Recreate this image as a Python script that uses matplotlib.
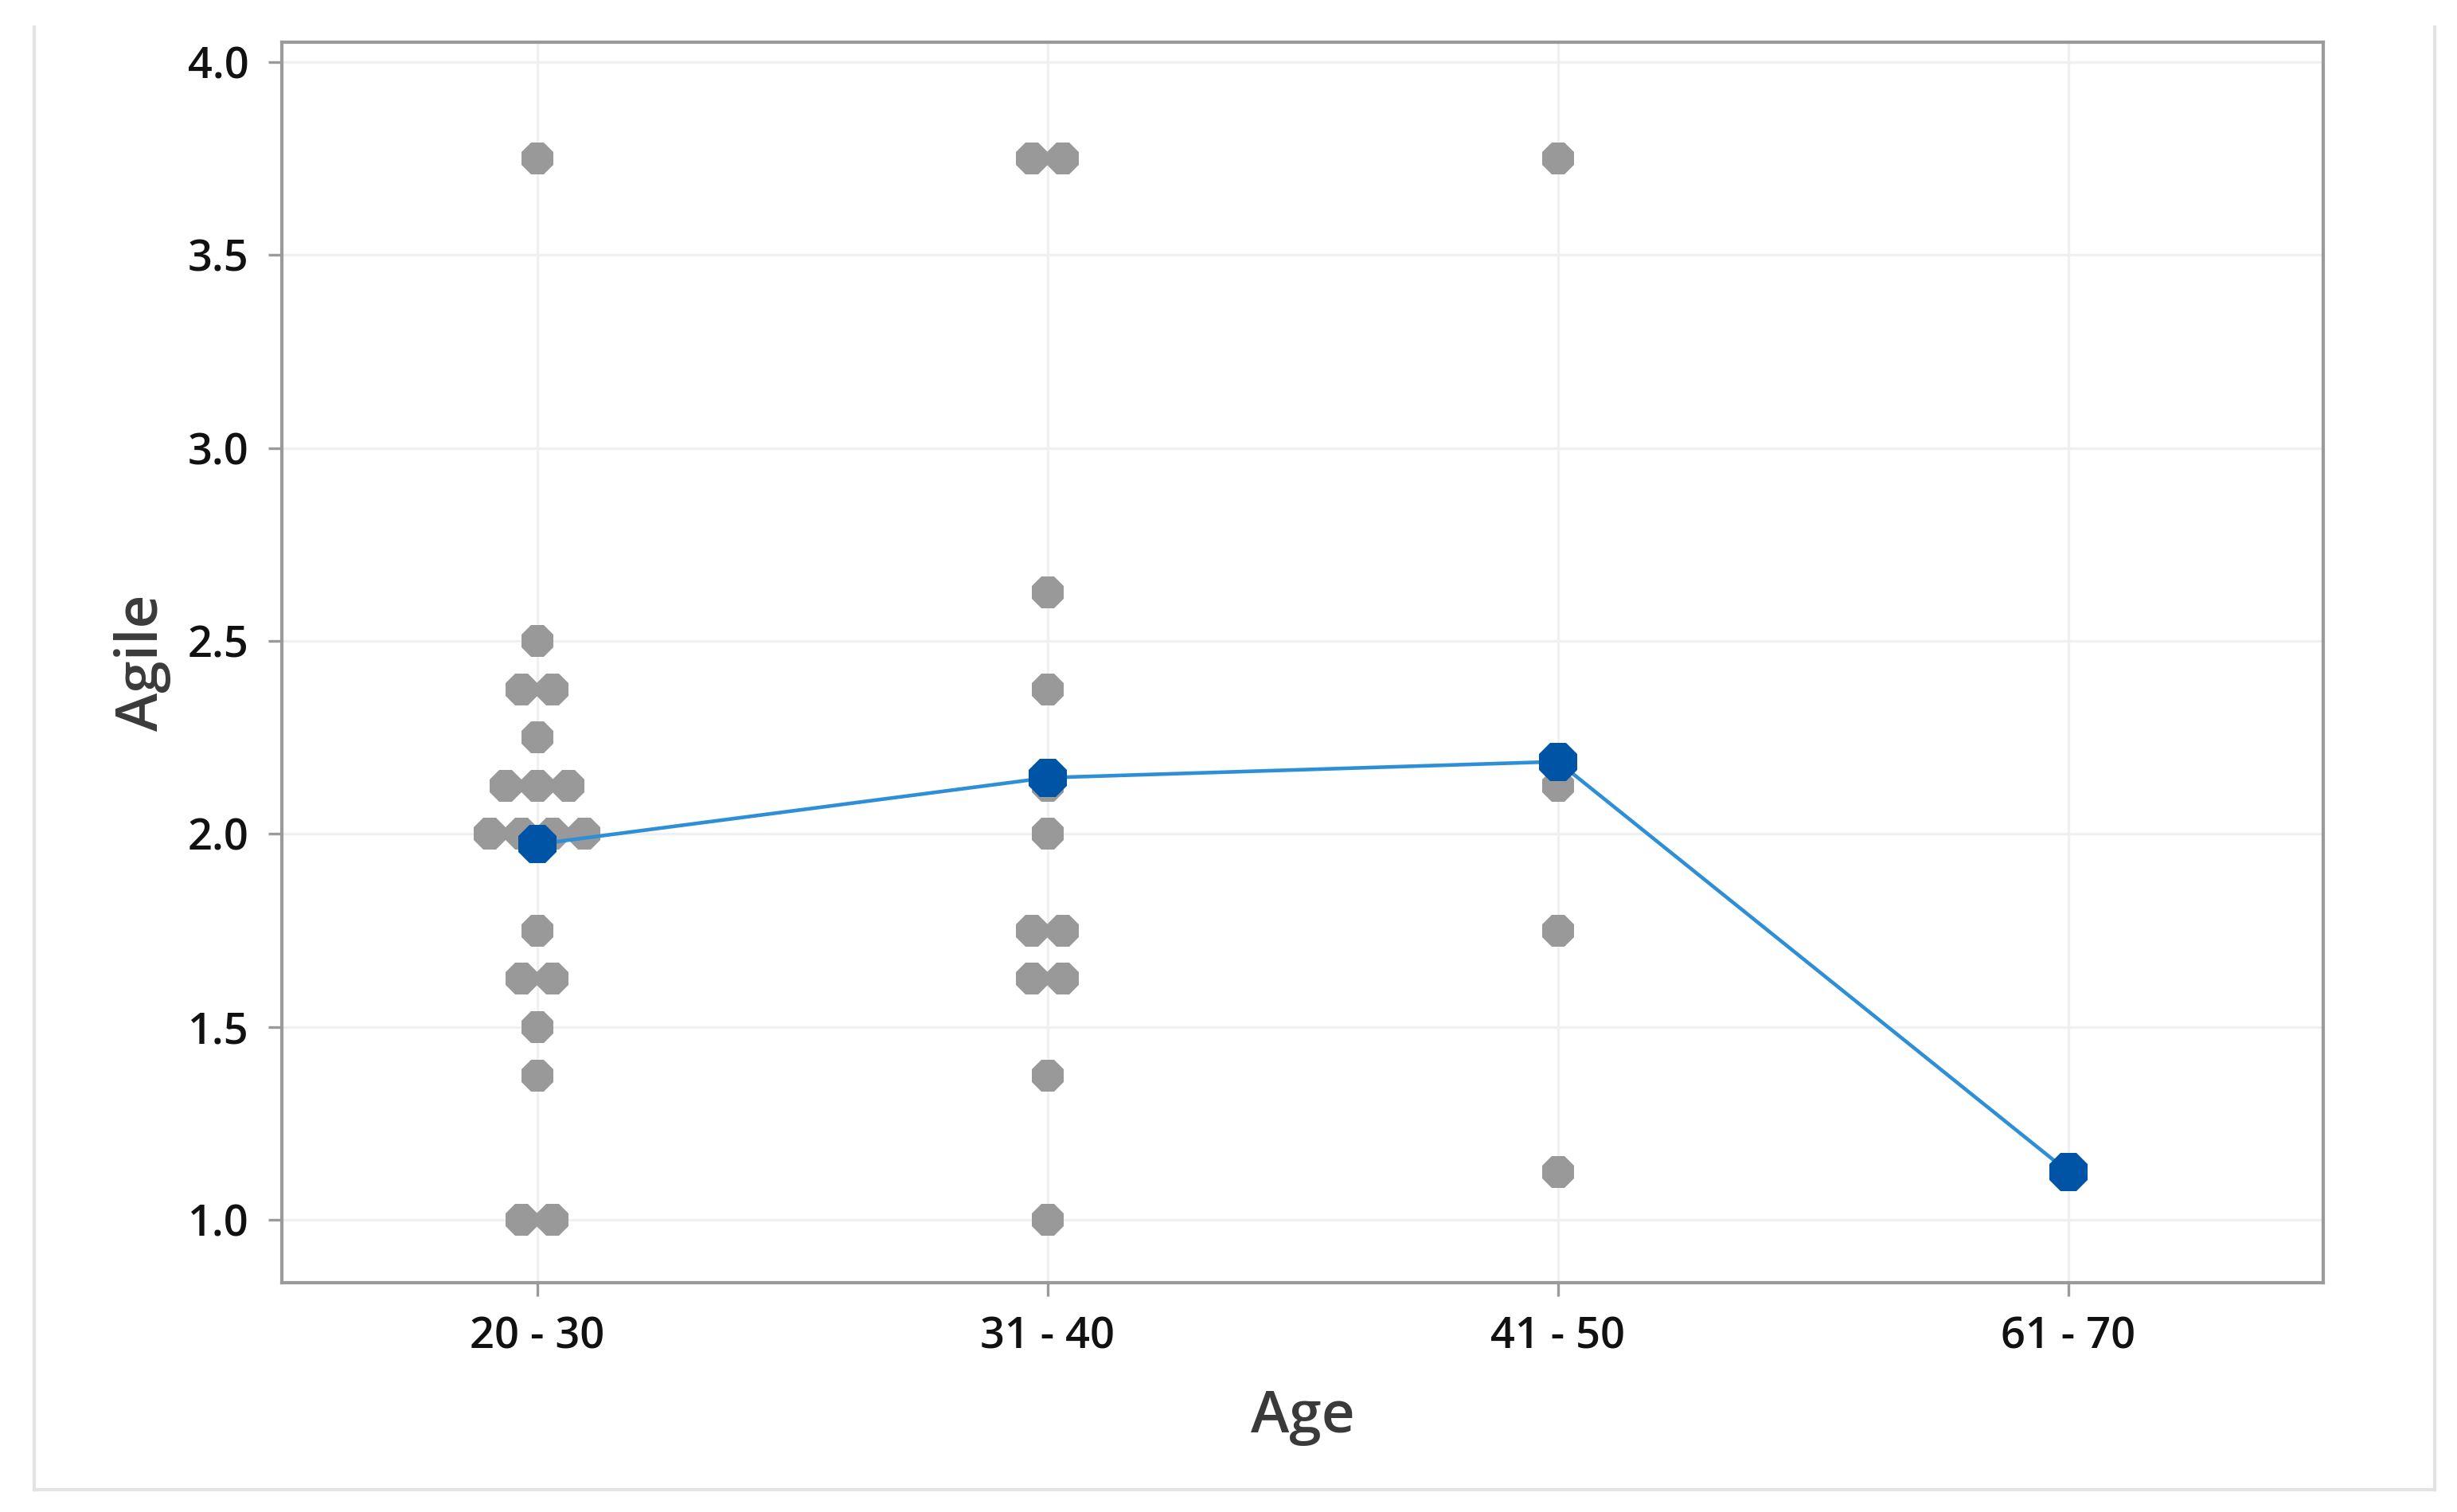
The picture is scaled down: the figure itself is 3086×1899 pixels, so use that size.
import numpy as np
import matplotlib.pyplot as plt
from matplotlib.lines import Line2D

# age groups on the x axis
age_groups = ['20 - 30', '31 - 40', '41 - 50', '61 - 70']

# individual Agile scores per age group
agile_20_30 = [3.75, 2.5, 2.375, 2.375, 2.25, 2.125, 2.125, 2.125,
               2.0, 2.0, 2.0, 2.0, 1.75, 1.625, 1.625, 1.5, 1.375, 1.0, 1.0]
agile_31_40 = [3.75, 3.75, 2.625, 2.375, 2.125, 2.0, 1.75, 1.75,
               1.625, 1.625, 1.375, 1.0]
agile_41_50 = [3.75, 2.125, 1.75, 1.125]
agile_61_70 = [1.125]

groups = [agile_20_30, agile_31_40, agile_41_50, agile_61_70]
means = [np.mean(g) for g in groups]

GRAY = '#999999'
DARK_BLUE = '#0054A6'
LINE_BLUE = '#2E8FD6'
FRAME = '#9a9a9a'
GRID = '#f0f0f0'
FONT = ['Open Sans', 'DejaVu Sans']
dot_step = 0.062

plt.rcParams['font.family'] = FONT

fig = plt.figure(figsize=(10.29, 6.33), dpi=300)
ax = fig.add_axes([0.1147, 0.1517, 0.8306, 0.8204])

# individual values, duplicates spread side by side
for i, g in enumerate(groups):
    vals, counts = np.unique(g, return_counts=True)
    for v, c in zip(vals, counts):
        offs = (np.arange(c) - (c - 1) / 2) * dot_step
        ax.plot(i + offs, [v] * c, linestyle='none', marker='8',
                markersize=10.3, color=GRAY, markeredgewidth=0, zorder=3)

xs = np.arange(len(age_groups))
ax.plot(xs, means, color=LINE_BLUE, linewidth=1.1, zorder=4)
ax.plot(xs, means, linestyle='none', marker='8', markersize=12.5,
        color=DARK_BLUE, markeredgewidth=0, zorder=5)

ax.set_xlim(-0.5, 3.5)
ax.set_ylim(0.838, 4.051)
ax.set_xticks(xs)
ax.set_xticklabels(age_groups)
ax.set_yticks([1.0, 1.5, 2.0, 2.5, 3.0, 3.5, 4.0])
ax.set_yticklabels(['1.0', '1.5', '2.0', '2.5', '3.0', '3.5', '4.0'])

ax.grid(True, color=GRID, linewidth=0.8)
ax.set_axisbelow(True)
for s in ax.spines.values():
    s.set_color(FRAME)
    s.set_linewidth(1.0)
ax.tick_params(axis='both', direction='out', length=4, width=0.8,
               color=FRAME, labelsize=13, labelcolor='#111111', pad=6)
for lab in ax.get_xticklabels() + ax.get_yticklabels():
    lab.set_fontweight('semibold')

ax.set_xlabel('Age', fontsize=17.5, color='#3a3a3a', labelpad=9,
              fontweight='semibold')
ax.set_ylabel('Agile', fontsize=17.5, color='#3a3a3a', labelpad=5,
              fontweight='semibold')

# light frame around the whole graph (left, right and bottom only)
fw, fh = 3087, 1899
bx0, bx1, by0, by1 = 43 / fw, 3058 / fw, 1 - 1871 / fh, 1 - 34 / fh
for xd, yd in [([bx0, bx0], [by1, by0]), ([bx0, bx1], [by0, by0]),
               ([bx1, bx1], [by0, by1])]:
    fig.add_artist(Line2D(xd, yd, transform=fig.transFigure,
                          color='#e3e3e3', linewidth=1.0))

fig.savefig('out.png', dpi=300, facecolor='white')
